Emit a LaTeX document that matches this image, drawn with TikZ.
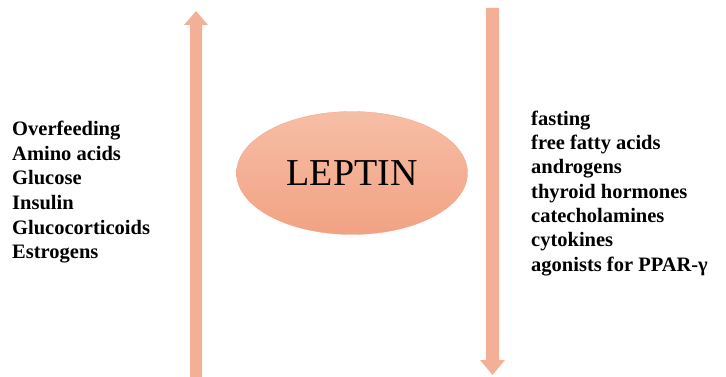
\documentclass[tikz,border=0pt]{standalone}
\usepackage{fontspec}
\setmainfont{Liberation Serif}
\usetikzlibrary{shapes.geometric}
\definecolor{arrowc}{HTML}{F4B096}
\definecolor{elltop}{HTML}{F6BEA6}
\definecolor{ellbot}{HTML}{F2A283}
\tikzset{
  lefttxt/.style={anchor=base west, inner sep=0pt, font=\bfseries\fontsize{20.5}{24}\selectfont},
  bigarrow/.style={fill=arrowc, draw=none},
  leptin/.style={ellipse, minimum width=231pt, minimum height=123pt, inner sep=0pt,
    top color=elltop, bottom color=ellbot, draw=ellbot, line width=0.3pt,
    font=\fontsize{38}{40}\selectfont}
}
\begin{document}
\begin{tikzpicture}[x=1pt,y=-1pt]
\useasboundingbox (0,0) rectangle (726,377);
% up arrow
\fill[bigarrow] (190,377) -- (190,25) -- (184,25) -- (196,11) -- (208,25) -- (202,25) -- (202,377) -- cycle;
% down arrow
\fill[bigarrow] (486,8) -- (486,360) -- (480,360) -- (492.5,375) -- (505,360) -- (499,360) -- (499,8) -- cycle;
% ellipse
\node[leptin] (lep) at (352,173) {LEPTIN};
% left list
\node[lefttxt] (l1) at (12,136) {Overfeeding};
\node[lefttxt] (l2) at (12,160.5) {Amino acids};
\node[lefttxt] (l3) at (12,185) {Glucose};
\node[lefttxt] (l4) at (12,209.5) {Insulin};
\node[lefttxt] (l5) at (12,234) {Glucocorticoids};
\node[lefttxt] (l6) at (12,258.5) {Estrogens};
% right list
\node[lefttxt] (r1) at (531,125.5) {fasting};
\node[lefttxt] (r2) at (531,149.75) {free fatty acids};
\node[lefttxt] (r3) at (531,174) {androgens};
\node[lefttxt] (r4) at (531,198.25) {thyroid hormones};
\node[lefttxt] (r5) at (531,222.5) {catecholamines};
\node[lefttxt] (r6) at (531,246.75) {cytokines};
\node[lefttxt] (r7) at (531,271) {agonists for PPAR-γ};
\end{tikzpicture}
\end{document}
